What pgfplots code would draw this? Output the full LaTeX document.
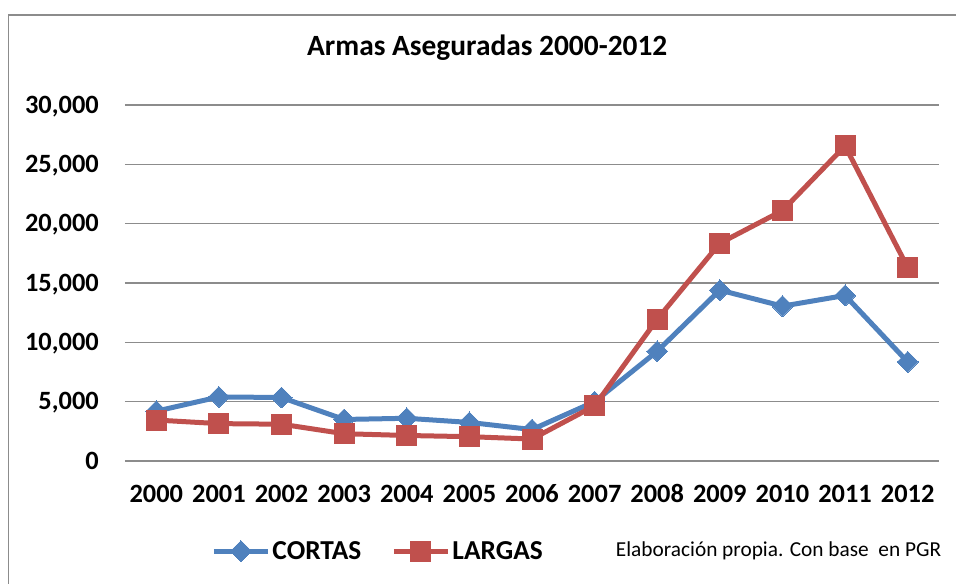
\documentclass[border=0pt]{standalone}
\usepackage{fontspec}
\setmainfont{Carlito}
\usepackage{pgfplots}
\pgfplotsset{compat=1.18}

\definecolor{cortas}{HTML}{4F81BD}
\definecolor{largas}{HTML}{C0504D}
\definecolor{gridgray}{HTML}{8C8C8C}

\pgfplotstableread{
year cortas largas
2000 4200 3450
2001 5400 3150
2002 5350 3100
2003 3500 2300
2004 3600 2150
2005 3250 2050
2006 2650 1850
2007 5000 4650
2008 9250 11950
2009 14400 18350
2010 13050 21100
2011 13950 26550
2012 8350 16300
}\armas

\begin{document}
\begin{tikzpicture}
\path[use as bounding box] (-125bp,-123bp) rectangle (831bp,461bp);
\draw[gridgray, line width=1.5bp] (-116.5bp,-123bp) -- (-116.5bp,446bp) -- (831bp,446bp);
\begin{axis}[
    scale only axis,
    width=814bp, height=356bp,
    xmin=1999.5, xmax=2012.5,
    ymin=0, ymax=30000,
    xtick=data,
    ytick={0,5000,10000,15000,20000,25000,30000},
    x tick label style={/pgf/number format/1000 sep={}},
    y tick label style={/pgf/number format/1000 sep={,}},
    /pgf/number format/assume math mode=true,
    tick label style={font=\bfseries\fontsize{26.5}{26.5}\selectfont, inner sep=0pt},
    yticklabel style={anchor=base east, xshift=-26bp, yshift=-8.3bp},
    xticklabel style={anchor=base, yshift=-41.5bp},
    scaled y ticks=false,
    axis line style={draw=none},
    major tick length=0pt,
    ymajorgrids=true,
    grid style={gridgray, line width=1.5bp},
    clip=false,
    title={Armas Aseguradas 2000-2012},
    title style={font=\bfseries\fontsize{29.5}{29.5}\selectfont, at={(0.445,1.145)}, anchor=center},
    legend columns=2,
    legend style={draw=none, fill=none, at={(0.311,-0.253)}, anchor=center,
        font=\bfseries\fontsize{27.5}{27.5}\selectfont,
        nodes={inner sep=2bp},
        /tikz/every even column/.append style={column sep=28bp}},
    legend image code/.code={
        \draw[#1, mark repeat=2, mark phase=2] plot coordinates {(0bp,0bp) (27bp,0bp) (54bp,0bp)};
    },
]
\addplot[cortas, line width=5bp, mark=square*, mark size=7.4bp,
    mark options={rotate=45, solid, line width=0pt}] table[x=year, y=cortas] {\armas};
\addlegendentry{CORTAS}
\addplot[largas, line width=5bp, mark=square*, mark size=10bp,
    mark options={solid, line width=0pt}] table[x=year, y=largas] {\armas};
\addlegendentry{LARGAS}
\node[anchor=east, inner sep=0pt, font=\fontsize{21.4}{21.4}\selectfont]
    at (axis description cs:1.003,-0.253) {Elaboración propia. Con base\ \ en PGR};
\end{axis}
\end{tikzpicture}
\end{document}
